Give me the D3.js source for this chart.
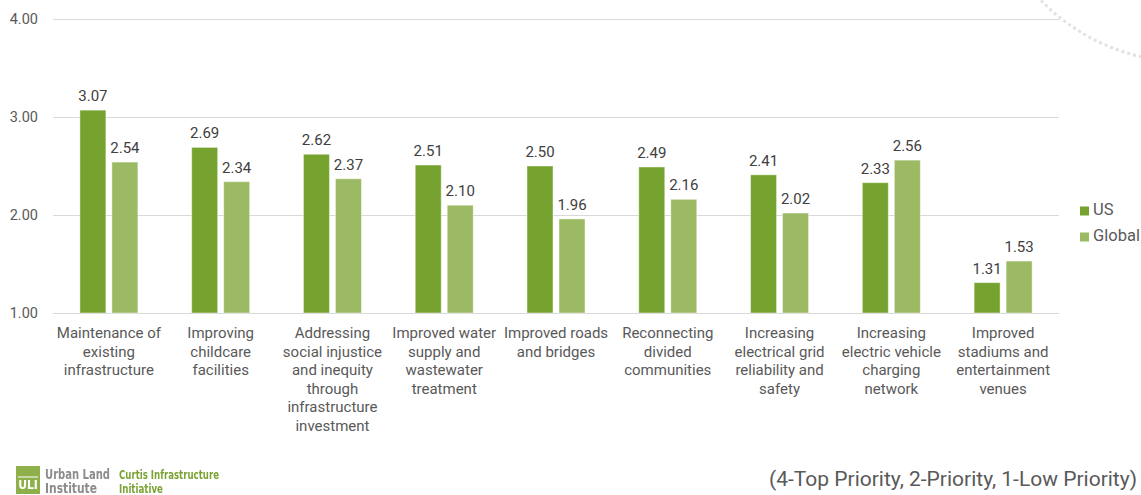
<!DOCTYPE html>
<html>
<head>
<meta charset="utf-8">
<script src="https://cdn.jsdelivr.net/npm/d3@7"></script>
<style>
  html, body { margin: 0; padding: 0; background: #fff; }
  svg { display: block; font-family: Roboto, "Noto Sans", sans-serif; }
</style>
</head>
<body>
<svg id="chart" width="1141" height="495"></svg>
<script>
// Infrastructure priorities, average score (4 = top priority)
const categories = [
  "Maintenance of existing infrastructure",
  "Improving childcare facilities",
  "Addressing social injustice and inequity through infrastructure investment",
  "Improved water supply and wastewater treatment",
  "Improved roads and bridges",
  "Reconnecting divided communities",
  "Increasing electrical grid reliability and safety",
  "Increasing electric vehicle charging network",
  "Improved stadiums and entertainment venues"
];
// Wrapped axis labels, one array of lines per category
const categoryLines = [
  ["Maintenance of", "existing", "infrastructure"],
  ["Improving", "childcare", "facilities"],
  ["Addressing", "social injustice", "and inequity", "through", "infrastructure", "investment"],
  ["Improved water", "supply and", "wastewater", "treatment"],
  ["Improved roads", "and bridges"],
  ["Reconnecting", "divided", "communities"],
  ["Increasing", "electrical grid", "reliability and", "safety"],
  ["Increasing", "electric vehicle", "charging", "network"],
  ["Improved", "stadiums and", "entertainment", "venues"]
];
const seriesNames = ["US", "Global"];
const usValues     = [3.07, 2.69, 2.62, 2.51, 2.50, 2.49, 2.41, 2.33, 1.31];
const globalValues = [2.54, 2.34, 2.37, 2.10, 1.96, 2.16, 2.02, 2.56, 1.53];
const yTicks = [1, 2, 3, 4];
const footnote = "(4-Top Priority, 2-Priority, 1-Low Priority)";

const colors = { US: "#76A22F", Global: "#9BBA63" };
const svg = d3.select("#chart");

// Decorative dotted arc in the top-right corner
svg.append("circle")
  .attr("cx", 1187).attr("cy", -142).attr("r", 204)
  .attr("fill", "none")
  .attr("stroke", "#e2e2e2")
  .attr("stroke-width", 3)
  .attr("stroke-dasharray", "3,3");

const plot = { left: 53, right: 1059, top: 19, bottom: 313 };

const x = d3.scaleBand().domain(categories).range([plot.left, plot.right]).padding(0);
const xInner = d3.scaleBand().domain(seriesNames).range([0, 58]).paddingInner(0.1875);
const y = d3.scaleLinear().domain([1, 4]).range([plot.bottom, plot.top]);

// Gridlines and value axis
const yAxis = d3.axisLeft(y)
  .tickValues(yTicks)
  .tickSize(-(plot.right - plot.left))
  .tickPadding(15)
  .tickFormat(d3.format(".2f"));
const gy = svg.append("g").attr("transform", `translate(${plot.left},0)`).call(yAxis);
gy.select(".domain").remove();
gy.selectAll(".tick line").attr("stroke", "#d9d9d9").attr("stroke-width", 1);
gy.selectAll(".tick text")
  .attr("fill", "#595959")
  .style("font-size", "14.5px")
  .style("font-family", "Roboto, sans-serif");

// Bars
const rows = categories.map((c, i) => ({
  category: c,
  values: [
    { series: "US", value: usValues[i] },
    { series: "Global", value: globalValues[i] }
  ]
}));

const groups = svg.append("g").selectAll("g")
  .data(rows)
  .join("g")
  .attr("transform", d => `translate(${x(d.category) + x.bandwidth() / 2 - 29},0)`);

groups.selectAll("rect")
  .data(d => d.values)
  .join("rect")
  .attr("x", d => xInner(d.series))
  .attr("y", d => y(d.value))
  .attr("width", xInner.bandwidth())
  .attr("height", d => y(1) - y(d.value))
  .attr("fill", d => colors[d.series])
  .attr("stroke", "rgba(255,255,255,0.45)")
  .attr("stroke-width", 1);

groups.selectAll("text.value")
  .data(d => d.values)
  .join("text")
  .attr("class", "value")
  .attr("x", d => xInner(d.series) + xInner.bandwidth() / 2)
  .attr("y", d => y(d.value) - 9)
  .attr("text-anchor", "middle")
  .attr("fill", "#404040")
  .style("font-size", "15px")
  .text(d => d.value.toFixed(2));

// Category axis labels
const xAxis = d3.axisBottom(x).tickSize(0).tickFormat(() => "");
const gx = svg.append("g").attr("transform", `translate(0,${plot.bottom})`).call(xAxis);
gx.select(".domain").remove();
gx.selectAll(".tick").each(function (d, i) {
  const t = d3.select(this).append("text")
    .attr("text-anchor", "middle")
    .attr("fill", "#595959")
    .style("font-size", "15px")
    .style("font-family", "Roboto, sans-serif");
  categoryLines[i].forEach((line, k) => {
    t.append("tspan").attr("x", 0).attr("y", 25 + k * 18.6).text(line);
  });
});

// Legend
const legend = svg.append("g").attr("transform", "translate(1080,206.5)");
seriesNames.forEach((s, i) => {
  const g = legend.append("g").attr("transform", `translate(0,${i * 26})`);
  g.append("rect").attr("width", 9).attr("height", 9).attr("fill", colors[s]);
  g.append("text").attr("x", 13).attr("y", 8.7)
    .attr("fill", "#595959").style("font-size", "16.5px").text(s);
});

// Footnote
svg.append("text")
  .attr("x", 1137).attr("y", 486)
  .attr("text-anchor", "end")
  .attr("fill", "#595959")
  .style("font-size", "21px")
  .text(footnote);

// Organisation logo
const narrow = "'Liberation Sans Narrow', 'DejaVu Sans Condensed', sans-serif";
const logo = svg.append("g").style("filter", "blur(0.4px)");
logo.append("rect").attr("x", 16).attr("y", 466).attr("width", 24).attr("height", 28).attr("fill", "#8DB04A");
logo.append("text").attr("x", 28).attr("y", 489).attr("text-anchor", "middle")
  .attr("fill", "#fff").style("font-size", "12px").style("font-weight", "bold")
  .style("font-family", narrow)
  .text("ULI");
logo.append("line").attr("x1", 18).attr("x2", 38).attr("y1", 477).attr("y2", 477)
  .attr("stroke", "#fff").attr("stroke-width", 1);
[["Urban Land", 45, 479, 65], ["Institute", 45, 493, 52]].forEach(([t, xx, yy, w]) => {
  logo.append("text").attr("x", xx).attr("y", yy)
    .attr("fill", "#8C8C8C").style("font-size", "14px").style("font-weight", "bold")
    .style("font-family", narrow)
    .attr("textLength", w).attr("lengthAdjust", "spacingAndGlyphs")
    .text(t);
});
[["Curtis Infrastructure", 119, 479, 100], ["Initiative", 119, 493, 44]].forEach(([t, xx, yy, w]) => {
  logo.append("text").attr("x", xx).attr("y", yy)
    .attr("fill", "#7AA334").style("font-size", "13px").style("font-weight", "bold")
    .style("font-family", narrow)
    .attr("textLength", w).attr("lengthAdjust", "spacingAndGlyphs")
    .text(t);
});
</script>
</body>
</html>
